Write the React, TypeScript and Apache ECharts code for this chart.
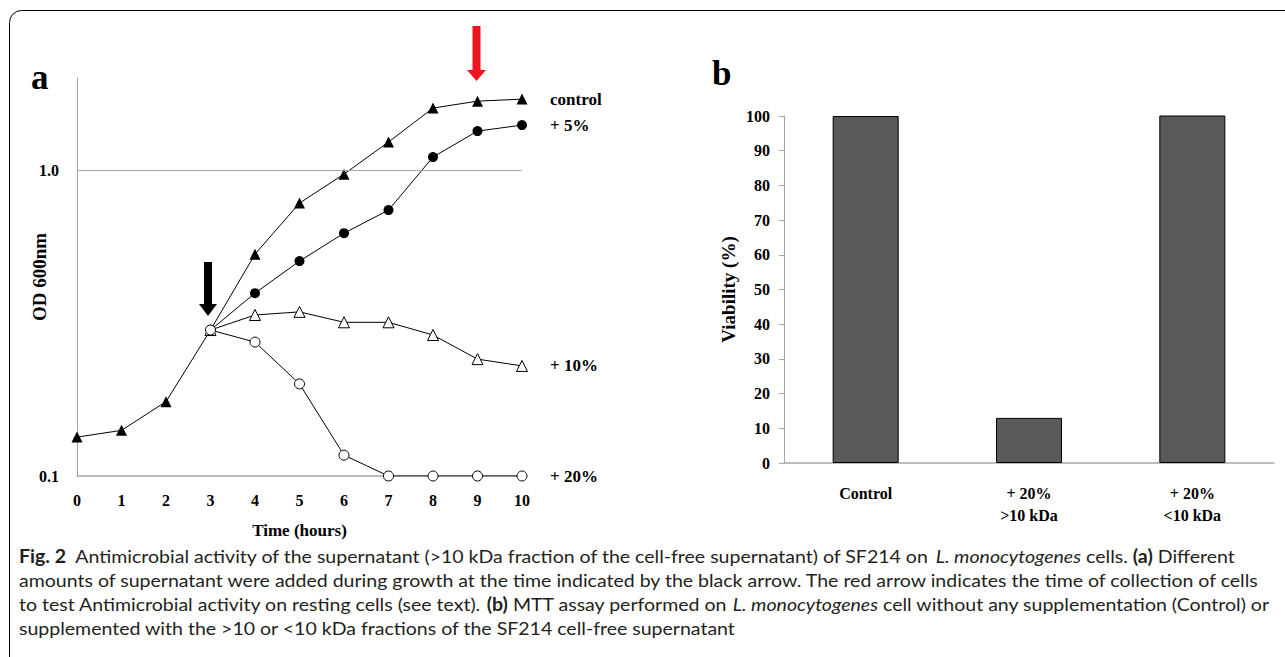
import React, { useEffect, useRef } from "react";
import * as echarts from "echarts";

const hours = [0, 1, 2, 3, 4, 5, 6, 7, 8, 9, 10];
const controlOD = [0.134, 0.141, 0.175, 0.3, 0.531, 0.78, 0.97, 1.235, 1.595, 1.68, 1.706];
const plus5OD = [0.3, 0.396, 0.504, 0.622, 0.74, 1.103, 1.341, 1.403];
const plus10OD = [0.3, 0.336, 0.344, 0.318, 0.318, 0.289, 0.241, 0.229];
const plus20OD = [0.3, 0.274, 0.2, 0.117, 0.1, 0.1, 0.1, 0.1];
const seriesNames = ["control", "+ 5%", "+ 10%", "+ 20%"];

const barCategories = ["Control", "+ 20%\n>10 kDa", "+ 20%\n<10 kDa"];
const viability = [100, 13, 100.3];

const captionLines = [
  "{b|Fig. 2}  Antimicrobial activity of the supernatant (>10 kDa fraction of the cell-free supernatant) of SF214 on {i|L. monocytogenes} cells. {b|(a)} Different",
  "amounts of supernatant were added during growth at the time indicated by the black arrow. The red arrow indicates the time of collection of cells",
  "to test Antimicrobial activity on resting cells (see text). {b|(b)} MTT assay performed on {i|L. monocytogenes} cell without any supplementation (Control) or",
  "supplemented with the >10 or <10 kDa fractions of the SF214 cell-free supernatant",
];

const SERIF = "'Liberation Serif', 'Times New Roman', serif";
const CAP = "Lato, 'Noto Sans', sans-serif";
const AXIS_GRAY = "#a6a6a6";
const CAP_SIZE = 18;

export default function App() {
  const ref = useRef<HTMLDivElement>(null);
  useEffect(() => {
    const chart = echarts.init(ref.current!, null, { renderer: "svg" });
    const tail = (vals: number[]) => vals.map((v, i) => [hours[3 + i], v]);
    const endLabel = (txt: string) => ({
      show: true,
      formatter: txt,
      distance: 28,
      color: "#000",
      fontFamily: SERIF,
      fontWeight: "bold",
      fontSize: 17,
    });
    const capFont = { fontFamily: CAP, fontSize: CAP_SIZE, fill: "#231f20" };
    const option: any = {
      animation: false,
      backgroundColor: "#fff",
      grid: [
        { left: 77, top: 78, width: 445, height: 398 },
        { left: 784, top: 116, width: 490, height: 347 },
      ],
      xAxis: [
        {
          type: "value",
          gridIndex: 0,
          min: 0,
          max: 10,
          interval: 1,
          axisLine: { onZero: false, lineStyle: { color: AXIS_GRAY, width: 1.5 } },
          axisTick: { show: false },
          splitLine: { show: false },
          axisLabel: { color: "#000", fontFamily: SERIF, fontWeight: "bold", fontSize: 16, margin: 16 },
          name: "Time (hours)",
          nameLocation: "middle",
          nameGap: 46,
          nameMoveOverlap: false,
          nameTextStyle: { color: "#000", fontFamily: SERIF, fontWeight: "bold", fontSize: 17 },
        },
        {
          type: "category",
          gridIndex: 1,
          data: barCategories,
          axisLine: { lineStyle: { color: AXIS_GRAY, width: 1.5 } },
          axisTick: { show: false },
          axisLabel: { color: "#000", fontFamily: SERIF, fontWeight: "bold", fontSize: 16, margin: 19, lineHeight: 22 },
        },
      ],
      yAxis: [
        {
          type: "log",
          gridIndex: 0,
          logBase: 10,
          min: 0.1,
          max: 2,
          axisLine: { show: true, lineStyle: { color: AXIS_GRAY, width: 1 } },
          axisTick: { show: false },
          splitLine: { show: false },
          axisLabel: {
            color: "#000",
            fontFamily: SERIF,
            fontWeight: "bold",
            fontSize: 16,
            margin: 18,
            formatter: (v: number) =>
              Math.abs(v - 1) < 1e-6 ? "1.0" : Math.abs(v - 0.1) < 1e-6 ? "0.1" : "",
          },
          name: "OD 600nm",
          nameLocation: "middle",
          nameGap: 28,
          nameMoveOverlap: false,
          nameTextStyle: { color: "#000", fontFamily: SERIF, fontWeight: "bold", fontSize: 19 },
        },
        {
          type: "value",
          gridIndex: 1,
          min: 0,
          max: 100,
          interval: 10,
          axisLine: { show: true, lineStyle: { color: AXIS_GRAY, width: 1 } },
          axisTick: { show: true, inside: false, length: 5, lineStyle: { color: AXIS_GRAY } },
          splitLine: { show: false },
          axisLabel: { color: "#000", fontFamily: SERIF, fontWeight: "bold", fontSize: 16, margin: 14 },
          name: "Viability (%)",
          nameLocation: "middle",
          nameGap: 46,
          nameMoveOverlap: false,
          nameTextStyle: { color: "#000", fontFamily: SERIF, fontWeight: "bold", fontSize: 19 },
        },
      ],
      series: [
        {
          name: seriesNames[0],
          type: "line",
          xAxisIndex: 0,
          yAxisIndex: 0,
          data: hours.map((h, i) => [h, controlOD[i]]),
          symbol: "triangle",
          symbolSize: 11,
          itemStyle: { color: "#000" },
          lineStyle: { color: "#000", width: 1 },
          endLabel: endLabel(seriesNames[0]),
          markLine: {
            silent: true,
            symbol: "none",
            label: { show: false },
            lineStyle: { color: AXIS_GRAY, type: "solid", width: 1.2 },
            data: [[{ coord: [0, 1] }, { coord: [10, 1] }]],
          },
          z: 2,
        },
        {
          name: seriesNames[1],
          type: "line",
          xAxisIndex: 0,
          yAxisIndex: 0,
          data: tail(plus5OD),
          symbol: "circle",
          symbolSize: 10,
          itemStyle: { color: "#000" },
          lineStyle: { color: "#000", width: 1 },
          endLabel: endLabel(seriesNames[1]),
          z: 3,
        },
        {
          name: seriesNames[2],
          type: "line",
          xAxisIndex: 0,
          yAxisIndex: 0,
          data: tail(plus10OD),
          symbol: "triangle",
          symbolSize: 11,
          showAllSymbol: true,
          itemStyle: { color: "#fff", borderColor: "#000", borderWidth: 1 },
          lineStyle: { color: "#000", width: 1 },
          endLabel: endLabel(seriesNames[2]),
          z: 4,
        },
        {
          name: seriesNames[3],
          type: "line",
          xAxisIndex: 0,
          yAxisIndex: 0,
          data: tail(plus20OD),
          symbol: "circle",
          symbolSize: 10,
          showAllSymbol: true,
          itemStyle: { color: "#fff", borderColor: "#000", borderWidth: 1 },
          lineStyle: { color: "#000", width: 1 },
          endLabel: endLabel(seriesNames[3]),
          z: 5,
        },
        {
          type: "bar",
          xAxisIndex: 1,
          yAxisIndex: 1,
          data: viability,
          barWidth: 66,
          itemStyle: { color: "#595959", borderColor: "#000", borderWidth: 1 },
        },
      ],
      graphic: [
        {
          type: "rect",
          shape: { x: 9.5, y: 10.5, width: 1400, height: 800, r: 12 },
          style: { fill: "none", stroke: "#000", lineWidth: 1 },
          silent: true,
        },
        {
          type: "text",
          left: 31,
          top: 60,
          style: { text: "a", fontFamily: SERIF, fontWeight: "bold", fontSize: 35, fill: "#000" },
        },
        {
          type: "text",
          left: 712,
          top: 56,
          style: { text: "b", fontFamily: SERIF, fontWeight: "bold", fontSize: 35, fill: "#000" },
        },
        // black arrow
        { type: "rect", shape: { x: 204, y: 262, width: 8, height: 43 }, style: { fill: "#000" } },
        { type: "polygon", shape: { points: [[199, 304], [217, 304], [208, 316]] }, style: { fill: "#000" } },
        // red arrow
        { type: "rect", shape: { x: 472.5, y: 26, width: 8, height: 45 }, style: { fill: "#f0141e" } },
        { type: "polygon", shape: { points: [[467, 70], [486, 70], [476.5, 81]] }, style: { fill: "#f0141e" } },
        ...captionLines.map((t, i) => ({
          type: "text",
          x: 19,
          y: 547 + i * 24,
          scaleX: 1.085,
          style: {
            text: t,
            ...capFont,
            rich: {
              b: { fontFamily: CAP, fontSize: CAP_SIZE, fontWeight: "bold", fill: "#231f20" },
              i: { fontFamily: CAP, fontSize: CAP_SIZE, fontStyle: "italic", fill: "#231f20" },
            },
          },
        })),
      ],
    };
    chart.setOption(option);
    return () => chart.dispose();
  }, []);
  return (
    <div
      ref={ref}
      style={{ position: "absolute", left: 0, top: 0, width: 1285, height: 657, background: "#fff" }}
    />
  );
}
